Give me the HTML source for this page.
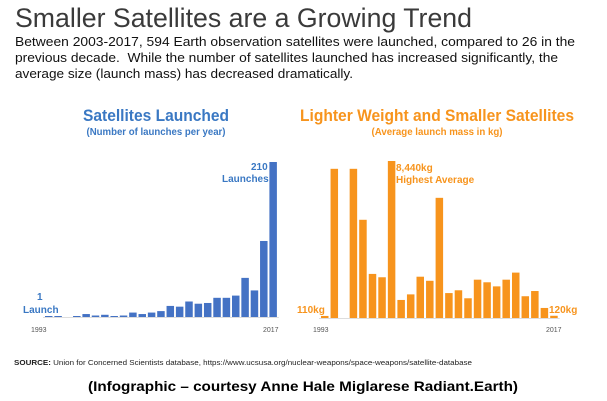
<!DOCTYPE html>
<html><head><meta charset="utf-8"><style>
body{margin:0;background:#fff;}
svg{display:block;font-family:"Liberation Sans",sans-serif;}
</style></head><body>
<svg width="607" height="401" viewBox="0 0 607 401">
<text x="15" y="27" font-size="27" fill="#3a3a3a" textLength="457" lengthAdjust="spacingAndGlyphs">Smaller Satellites are a Growing Trend</text>
<g font-size="13" fill="#111">
<text x="15" y="46" textLength="560" lengthAdjust="spacingAndGlyphs">Between 2003-2017, 594 Earth observation satellites were launched, compared to 26 in the</text>
<text x="15" y="62" textLength="543" lengthAdjust="spacingAndGlyphs">previous decade.&#160; While the number of satellites launched has increased significantly, the</text>
<text x="15" y="78" textLength="338" lengthAdjust="spacingAndGlyphs">average size (launch mass) has decreased dramatically.</text>
</g>
<text x="156" y="121" text-anchor="middle" font-size="17" font-weight="bold" fill="#3a78c3" textLength="146" lengthAdjust="spacingAndGlyphs">Satellites Launched</text>
<text x="156" y="135" text-anchor="middle" font-size="10" font-weight="bold" fill="#3a78c3" textLength="139" lengthAdjust="spacingAndGlyphs">(Number of launches per year)</text>
<text x="437" y="121" text-anchor="middle" font-size="17" font-weight="bold" fill="#f7941d" textLength="274" lengthAdjust="spacingAndGlyphs">Lighter Weight and Smaller Satellites</text>
<text x="437" y="135" text-anchor="middle" font-size="10" font-weight="bold" fill="#f7941d" textLength="131" lengthAdjust="spacingAndGlyphs">(Average launch mass in kg)</text>
<g id="left"></g>
<g id="right"></g>
<g font-size="10" font-weight="bold">
<text x="251" y="170" fill="#3a78c3">210</text>
<text x="222" y="182" fill="#3a78c3">Launches</text>
<text x="37" y="300" fill="#3a78c3">1</text>
<text x="23" y="313" fill="#3a78c3">Launch</text>
<text x="396" y="171" fill="#f7941d">8,440kg</text>
<text x="396" y="183" fill="#f7941d">Highest Average</text>
<text x="297" y="313" fill="#f7941d">110kg</text>
<text x="549" y="313" fill="#f7941d">120kg</text>
</g>
<g font-size="7" fill="#555">
<text x="31" y="332">1993</text><text x="263" y="332">2017</text>
<text x="313" y="332">1993</text><text x="546" y="332">2017</text>
</g>
<text x="14" y="365" font-size="7" fill="#222" textLength="458" lengthAdjust="spacingAndGlyphs"><tspan font-weight="bold">SOURCE:</tspan> Union for Concerned Scientists database, https://www.ucsusa.org/nuclear-weapons/space-weapons/satellite-database</text>
<text x="303" y="391" text-anchor="middle" font-size="14" font-weight="bold" fill="#000" textLength="430" lengthAdjust="spacingAndGlyphs">(Infographic – courtesy Anne Hale Miglarese Radiant.Earth)</text>
</svg>
<script>
const years = [1993,1994,1995,1996,1997,1998,1999,2000,2001,2002,2003,2004,2005,2006,2007,2008,2009,2010,2011,2012,2013,2014,2015,2016,2017];
const launches = [1,1,0,1,4,2,3,1,2,6,4,6,8,15,14,21,18,19,26,26,29,53,36,103,210];
const massKg = [110,8020,0,8020,5280,2370,2190,8440,970,1270,2220,2000,6460,1340,1490,1060,2060,1920,1700,2060,2440,1170,1450,540,120];
const NS='http://www.w3.org/2000/svg';
function draw(gid, vals, x0, slot, bw, base, maxV, maxH, color){
  const g=document.getElementById(gid);
  const x=i=>x0+i*slot, y=v=>v/maxV*maxH;
  const ln=document.createElementNS(NS,'line');
  ln.setAttribute('x1',x0-2);ln.setAttribute('x2',x(vals.length-1)+bw+2);
  ln.setAttribute('y1',base+0.5);ln.setAttribute('y2',base+0.5);
  ln.setAttribute('stroke','#ddd');
  
  
  g.appendChild(ln);
  vals.forEach((v,i)=>{
    let h=y(v); if(v>0&&h<1)h=1;
    const r=document.createElementNS(NS,'rect');
    r.setAttribute('x',x(i));r.setAttribute('y',base-h);
    r.setAttribute('width',bw);r.setAttribute('height',h);
    r.setAttribute('fill',color);
    
    
    g.appendChild(r);
  });
}
draw('left',launches,45,9.35,7.5,317,210,155,'#4472c4');
draw('right',massKg,321,9.55,7.5,318,8440,157,'#f7941d');
</script>
</body></html>
